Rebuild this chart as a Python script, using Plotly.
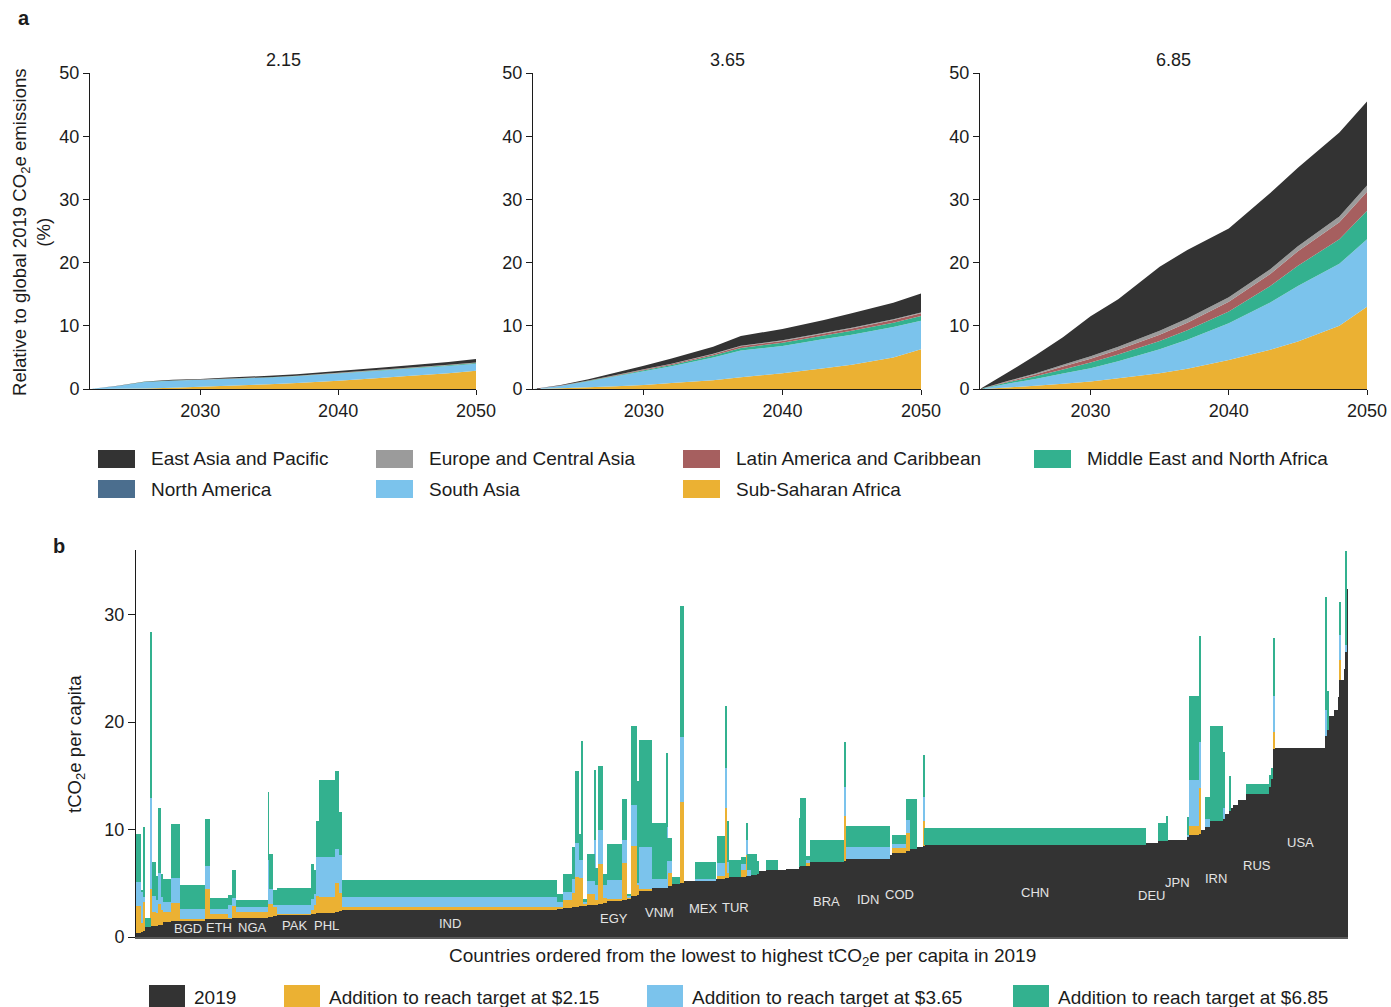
import numpy as np
import plotly.graph_objects as go

W, H = 1391, 1007
FONT = "Liberation Sans, Arial, Helvetica, sans-serif"
INK = "#1c1c1c"


def fx(px):
    return px / W


def fy(py):
    return 1 - py / H


# ---------------- panel a: regional emissions needed (% of global 2019) ----------------
years = [2022, 2024, 2026, 2028, 2030, 2032, 2035, 2037, 2040, 2043, 2045, 2048, 2050]

# $2.15 poverty line
ssa_215 = [0, 0.02, 0.08, 0.2, 0.35, 0.5, 0.75, 0.95, 1.3, 1.75, 2.05, 2.5, 2.9]
sas_215 = [0, 0.46, 1.04, 1.12, 1.1, 1.1, 1.05, 1.05, 1.15, 1.15, 1.15, 1.15, 1.1]
mena_215 = [0, 0.005, 0.01, 0.02, 0.02, 0.03, 0.04, 0.05, 0.06, 0.08, 0.09, 0.11, 0.12]
lac_215 = [0, 0, 0.005, 0.01, 0.01, 0.015, 0.02, 0.02, 0.03, 0.03, 0.04, 0.05, 0.05]
eca_215 = [0, 0, 0.005, 0.005, 0.01, 0.01, 0.01, 0.01, 0.02, 0.02, 0.02, 0.03, 0.03]
nam_215 = [0, 0, 0, 0, 0, 0, 0, 0, 0, 0, 0, 0, 0]
eap_215 = [0, 0.02, 0.06, 0.1, 0.11, 0.145, 0.23, 0.27, 0.28, 0.32, 0.36, 0.42, 0.55]

# $3.65 poverty line
ssa_365 = [0, 0.12, 0.28, 0.45, 0.65, 0.95, 1.4, 1.85, 2.5, 3.3, 3.85, 5.0, 6.3]
sas_365 = [0, 0.38, 0.95, 1.55, 2.15, 2.65, 3.6, 4.25, 4.3, 4.6, 4.75, 4.8, 4.5]
mena_365 = [0, 0.03, 0.06, 0.1, 0.15, 0.2, 0.3, 0.4, 0.5, 0.55, 0.6, 0.7, 0.75]
lac_365 = [0, 0.03, 0.05, 0.09, 0.12, 0.15, 0.2, 0.25, 0.3, 0.35, 0.38, 0.42, 0.45]
eca_365 = [0, 0.01, 0.02, 0.03, 0.05, 0.06, 0.08, 0.1, 0.1, 0.1, 0.12, 0.12, 0.12]
nam_365 = [0, 0, 0, 0, 0, 0, 0, 0, 0, 0, 0, 0, 0]
eap_365 = [0, 0.08, 0.2, 0.4, 0.55, 0.8, 1.1, 1.55, 1.8, 2.0, 2.3, 2.6, 3.0]

# $6.85 poverty line
ssa_685 = [0, 0.25, 0.5, 0.85, 1.2, 1.7, 2.5, 3.2, 4.6, 6.2, 7.5, 10.0, 13.0]
sas_685 = [0, 0.6, 1.1, 1.6, 2.1, 2.7, 3.8, 4.6, 5.8, 7.5, 8.8, 9.8, 10.7]
mena_685 = [0, 0.2, 0.4, 0.65, 0.9, 1.05, 1.3, 1.5, 1.85, 2.6, 3.2, 3.9, 4.5]
lac_685 = [0, 0.12, 0.28, 0.45, 0.6, 0.75, 1.0, 1.2, 1.55, 1.9, 2.3, 2.7, 3.0]
eca_685 = [0, 0.08, 0.18, 0.3, 0.4, 0.5, 0.6, 0.65, 0.7, 0.75, 0.8, 0.9, 1.0]
nam_685 = [0, 0, 0, 0, 0, 0, 0, 0, 0, 0, 0, 0, 0]
eap_685 = [0, 1.35, 2.85, 4.35, 6.3, 7.5, 10.15, 10.85, 10.9, 12.05, 12.4, 13.3, 13.3]

legend_regions = ["East Asia and Pacific", "Europe and Central Asia",
                  "Latin America and Caribbean", "Middle East and North Africa",
                  "North America", "South Asia", "Sub-Saharan Africa"]
region_colors = {
    "East Asia and Pacific": "#333333",
    "Europe and Central Asia": "#9b9b9b",
    "Latin America and Caribbean": "#a65f5f",
    "Middle East and North Africa": "#33b18f",
    "North America": "#4b6e8e",
    "South Asia": "#7bc3ec",
    "Sub-Saharan Africa": "#ebb133",
}
# bottom-to-top stacking order
stack_order = ["Sub-Saharan Africa", "South Asia", "Middle East and North Africa",
               "Latin America and Caribbean", "Europe and Central Asia", "North America",
               "East Asia and Pacific"]
poverty_lines = ["2.15", "3.65", "6.85"]
panel_series = {
    "2.15": [ssa_215, sas_215, mena_215, lac_215, eca_215, nam_215, eap_215],
    "3.65": [ssa_365, sas_365, mena_365, lac_365, eca_365, nam_365, eap_365],
    "6.85": [ssa_685, sas_685, mena_685, lac_685, eca_685, nam_685, eap_685],
}

# ---------------- panel b: per-capita emissions by country ----------------
codes = ["", "", "", "", "", "", "", "", "", "",
         "", "BGD", "", "ETH", "", "", "NGA", "", "", "",
         "PAK", "", "", "", "PHL", "", "", "IND", "", "",
         "", "", "", "", "", "", "", "", "", "",
         "EGY", "", "", "", "", "", "VNM", "", "", "",
         "", "", "MEX", "", "", "", "", "TUR", "", "",
         "", "", "", "", "", "", "", "", "", "",
         "BRA", "", "IDN", "", "COD", "", "", "", "", "CHN",
         "DEU", "", "", "JPN", "", "", "", "", "", "IRN",
         "", "", "", "", "", "", "RUS", "", "", "",
         "USA", "", "", "", "", "", "", "", "", "",
         ""]
# population, millions
population = [30, 13, 15, 36, 10, 23, 13, 19, 15, 47,
              59, 160, 32, 110, 28, 27, 203, 4, 29, 25,
              212, 21, 15, 13, 106, 25, 19, 1367, 38, 53,
              21, 27, 15, 8, 27, 49, 3, 14, 36, 25,
              93, 34, 23, 40, 13, 79, 95, 6, 27, 55,
              21, 70, 133, 11, 51, 13, 10, 79, 32, 6,
              25, 36, 11, 49, 70, 57, 80, 3, 44, 21,
              216, 17, 275, 17, 89, 21, 43, 42, 6, 1408,
              78, 53, 4, 127, 11, 65, 9, 27, 32, 84,
              11, 32, 10, 11, 32, 49, 148, 11, 15, 11,
              324, 8, 6, 36, 32, 6, 6, 19, 13, 6,
              8]
# tCO2e per capita in 2019
emis_2019 = [0.4, 0.5, 0.6, 0.9, 1.0, 1.0, 1.05, 1.1, 1.15, 1.4,
             1.5, 1.58, 1.65, 1.7, 1.75, 1.75, 1.8, 1.85, 1.9, 1.95,
             2.05, 2.1, 2.15, 2.2, 2.2, 2.3, 2.4, 2.55, 2.6, 2.7,
             2.75, 2.8, 2.85, 2.9, 2.95, 3.0, 3.0, 3.0, 3.1, 3.2,
             3.4, 3.45, 3.6, 3.8, 3.9, 4.3, 4.55, 4.6, 4.7, 4.95,
             5.0, 5.2, 5.3, 5.35, 5.4, 5.45, 5.5, 5.55, 5.6, 5.65,
             5.7, 5.8, 5.9, 6.1, 6.2, 6.25, 6.3, 6.5, 6.6, 6.65,
             6.95, 7.05, 7.3, 7.6, 7.85, 8.0, 8.15, 8.4, 8.5, 8.57,
             8.7, 8.95, 8.95, 9.0, 9.3, 9.45, 9.6, 10.0, 10.2, 10.8,
             11.0, 11.4, 11.7, 12.0, 12.3, 12.7, 13.3, 14.0, 14.7, 17.5,
             17.6, 18.7, 19.3, 20.6, 21.1, 22.3, 23.95, 23.95, 24.9, 26.5,
             32.4]
# per-capita level required to reach each poverty target
target_215 = [2.9, 1.3, 3.3, 0.9, 4.5, 2.35, 2.2, 3.1, 2.5, 2.35,
              3.2, 1.68, 4.45, 2.1, 1.8, 2.9, 2.35, 3.1, 3.1, 2.75,
              2.1, 2.5, 3.0, 3.8, 3.7, 5.0, 4.1, 2.8, 2.8, 3.4,
              4.05, 5.6, 5.45, 5.45, 3.05, 4.0, 4.0, 3.4, 6.75, 3.6,
              3.55, 6.9, 3.7, 8.5, 4.9, 4.5, 4.55, 4.6, 6.0, 4.95,
              12.6, 5.2, 5.3, 5.35, 5.7, 12.0, 6.0, 5.55, 6.2, 7.6,
              5.7, 5.8, 5.9, 6.1, 6.2, 6.25, 6.3, 6.5, 6.6, 6.85,
              6.95, 11.3, 7.3, 7.6, 8.3, 9.65, 8.15, 8.4, 10.8, 8.57,
              8.7, 8.95, 8.95, 9.0, 9.3, 10.35, 13.85, 10.0, 10.2, 10.8,
              11.0, 11.4, 11.7, 12.0, 12.3, 12.7, 13.3, 14.0, 14.7, 19.1,
              17.6, 18.7, 19.3, 20.6, 21.1, 22.3, 25.8, 23.95, 24.9, 26.5,
              32.4]
target_365 = [5.15, 4.2, 3.75, 0.9, 12.9, 3.8, 3.45, 6.0, 3.75, 3.3,
              5.5, 2.58, 6.6, 2.6, 3.0, 3.65, 2.8, 7.2, 4.45, 3.0,
              3.0, 3.5, 4.0, 7.4, 7.4, 8.15, 7.6, 3.75, 3.3, 4.2,
              5.4, 8.7, 7.2, 7.2, 3.25, 5.25, 9.0, 4.8, 10.0, 4.85,
              5.3, 9.0, 3.8, 12.3, 5.0, 8.35, 5.4, 10.2, 7.1, 4.95,
              18.65, 5.2, 5.4, 5.35, 6.9, 15.7, 7.0, 5.55, 6.8, 9.0,
              6.25, 5.8, 5.9, 6.1, 6.2, 6.25, 6.3, 6.5, 6.6, 7.15,
              6.95, 13.95, 8.4, 7.6, 8.65, 10.9, 8.15, 8.4, 13.0, 8.57,
              8.7, 8.95, 8.95, 9.0, 9.5, 14.6, 18.1, 10.0, 10.95, 10.8,
              12.0, 11.4, 11.7, 12.0, 12.3, 12.7, 13.3, 14.0, 14.7, 22.4,
              17.6, 21.1, 19.3, 20.6, 21.1, 22.3, 28.1, 23.95, 24.9, 27.2,
              32.4]
target_685 = [9.6, 4.4, 10.25, 1.8, 28.4, 6.95, 5.7, 12.0, 5.9, 5.4,
              10.55, 4.85, 11.0, 3.65, 3.9, 6.2, 3.45, 13.5, 7.7, 4.4,
              4.6, 6.8, 6.2, 10.8, 14.6, 15.4, 11.6, 5.3, 4.0, 5.9,
              8.35, 15.4, 9.6, 18.2, 3.55, 7.7, 15.5, 6.4, 15.9, 5.85,
              8.65, 12.85, 4.0, 19.65, 14.5, 18.3, 10.6, 17.1, 9.25, 5.6,
              30.8, 5.2, 7.0, 5.35, 9.35, 21.45, 10.8, 7.2, 7.4, 10.65,
              7.75, 7.75, 7.1, 6.1, 7.15, 6.25, 6.3, 11.05, 12.9, 7.5,
              9.05, 18.1, 10.35, 7.6, 9.5, 12.85, 12.85, 8.4, 16.95, 10.15,
              8.7, 10.65, 11.3, 9.0, 11.15, 22.45, 28.0, 10.0, 13.05, 19.65,
              17.2, 11.4, 15.0, 12.0, 12.3, 12.7, 14.25, 15.1, 15.7, 27.8,
              17.6, 31.65, 22.9, 20.6, 21.1, 22.3, 31.15, 23.95, 24.9, 35.9,
              32.4]

bar_series = ["2019", "Addition to reach target at $2.15",
              "Addition to reach target at $3.65", "Addition to reach target at $6.85"]
bar_colors = ["#333333", "#ebb133", "#7bc3ec", "#33b18f"]

# small label nudges so neighbouring codes do not collide
label_dy = {"DEU": -0.5, "JPN": 0.6, "BRA": -0.2, "IDN": -0.2, "CHN": -0.15}  # tCO2e
label_dx = {"BGD": -30, "MEX": -10}  # millions of people

n = len(codes)
assert all(len(a) == n for a in (population, emis_2019, target_215, target_365, target_685))

fig = go.Figure()

# ---- panel a traces ----
for i, line in enumerate(poverty_lines):
    ax = "" if i == 0 else str(i + 1)
    for name, vals in zip(stack_order, panel_series[line]):
        fig.add_trace(go.Scatter(
            x=years, y=vals, name=name, mode="none", stackgroup=f"s{i}",
            fillcolor=region_colors[name], line=dict(width=0),
            xaxis="x" + ax, yaxis="y" + ax, showlegend=False, hoverinfo="skip"))

# ---- panel b traces ----
pop = np.array(population, dtype=float)
left = np.concatenate([[0.0], np.cumsum(pop)[:-1]])
mid = left + pop / 2
base = np.array(emis_2019)
t1 = np.maximum(np.array(target_215), base)
t2 = np.maximum(np.array(target_365), t1)
t3 = np.maximum(np.array(target_685), t2)
layers = [base, t1 - base, t2 - t1, t3 - t2]
for name, col, vals in zip(bar_series, bar_colors, layers):
    fig.add_trace(go.Bar(
        x=mid, y=vals, width=pop, name=name, marker=dict(color=col, line=dict(width=0)),
        xaxis="x4", yaxis="y4", showlegend=False, hoverinfo="skip"))

# ---- axes ----
tick_font = dict(family=FONT, size=18, color=INK)
panel_px = [(90, 476), (533, 921), (980, 1367)]
layout_axes = {}
for i, (x0, x1) in enumerate(panel_px):
    k = "" if i == 0 else str(i + 1)
    layout_axes["xaxis" + k] = dict(
        domain=[fx(x0), fx(x1)], range=[2022, 2050], anchor="y" + k,
        tickvals=[2030, 2040, 2050], ticks="outside", ticklen=5, tickwidth=1, tickcolor=INK,
        showline=True, linecolor=INK, linewidth=1, showgrid=False, zeroline=False,
        tickfont=tick_font, fixedrange=True, automargin=False)
    layout_axes["yaxis" + k] = dict(
        domain=[fy(389), fy(73)], range=[0, 50], anchor="x" + k,
        tickvals=[0, 10, 20, 30, 40, 50], ticks="outside", ticklen=6, tickwidth=1,
        tickcolor=INK, showline=True, linecolor=INK, linewidth=1, showgrid=False,
        zeroline=False, tickfont=tick_font, fixedrange=True, automargin=False)

layout_axes["xaxis4"] = dict(
    domain=[fx(136), fx(1348)], range=[0, float(pop.sum())], anchor="y4",
    showticklabels=False, ticks="", showline=True, linecolor="#5a5a5a", linewidth=2,
    showgrid=False, zeroline=False, fixedrange=True, automargin=False)
layout_axes["yaxis4"] = dict(
    domain=[fy(937), fy(550)], range=[0, 36], anchor="x4",
    tickvals=[0, 10, 20, 30], ticks="outside", ticklen=7, tickwidth=1, tickcolor=INK,
    showline=True, linecolor=INK, linewidth=1, showgrid=False, zeroline=False,
    tickfont=tick_font, fixedrange=True, automargin=False)

annotations = []
shapes = []


def text(x, y, s, size=18, xanchor="center", yanchor="middle", angle=0, color=INK, bold=False):
    annotations.append(dict(
        x=x, y=y, xref="paper", yref="paper", text=f"<b>{s}</b>" if bold else s,
        showarrow=False, xanchor=xanchor, yanchor=yanchor, textangle=angle,
        font=dict(family=FONT, size=size, color=color)))


# panel letters and titles
text(fx(16), fy(18), "a", size=20, xanchor="left", bold=True)
text(fx(51), fy(546), "b", size=20, xanchor="left", bold=True)
for line, (x0, x1) in zip(poverty_lines, panel_px):
    text(fx((x0 + x1) / 2), fy(60), line)
text(fx(31), fy(232), "Relative to global 2019 CO<sub>2</sub>e emissions<br>(%)",
     size=18.6, angle=-90)
text(fx(76), fy(744), "tCO<sub>2</sub>e per capita", size=18.6, angle=-90)
text(fx(742), fy(957),
     "Countries ordered from the lowest to highest tCO<sub>2</sub>e per capita in 2019", size=19)

# panel a legend
legend_cols = [98, 376, 683, 1034]
legend_rows = [459, 489]
for j, name in enumerate(legend_regions):
    cx, cy = legend_cols[j % 4], legend_rows[j // 4]
    shapes.append(dict(type="rect", xref="paper", yref="paper",
                       x0=fx(cx), x1=fx(cx + 37), y0=fy(cy + 9), y1=fy(cy - 9),
                       fillcolor=region_colors[name], line=dict(width=0)))
    text(fx(cx + 51), fy(cy), name, size=19, xanchor="left")

# panel b legend
legend_b_cols = [149, 284, 647, 1013]
for cx, name, col in zip(legend_b_cols, bar_series, bar_colors):
    shapes.append(dict(type="rect", xref="paper", yref="paper",
                       x0=fx(cx), x1=fx(cx + 36), y0=fy(1007), y1=fy(985),
                       fillcolor=col, line=dict(width=0)))
    text(fx(cx + 43), fy(997), name, size=19, xanchor="left")

# country labels inside the 2019 bars
for c, xm, b in zip(codes, mid, base):
    if c:
        annotations.append(dict(
            x=xm + label_dx.get(c, 0.0), y=b / 2 + label_dy.get(c, 0.0),
            xref="x4", yref="y4", text=c, showarrow=False,
            font=dict(family=FONT, size=13, color="#e4e4e4")))

fig.update_layout(
    width=W, height=H, autosize=False,
    margin=dict(l=0, r=0, t=0, b=0, pad=0, autoexpand=False),
    paper_bgcolor="white", plot_bgcolor="white",
    barmode="stack", bargap=0, showlegend=False,
    font=dict(family=FONT, size=18, color=INK),
    annotations=annotations, shapes=shapes,
    **layout_axes)

fig.write_html("out.html")
